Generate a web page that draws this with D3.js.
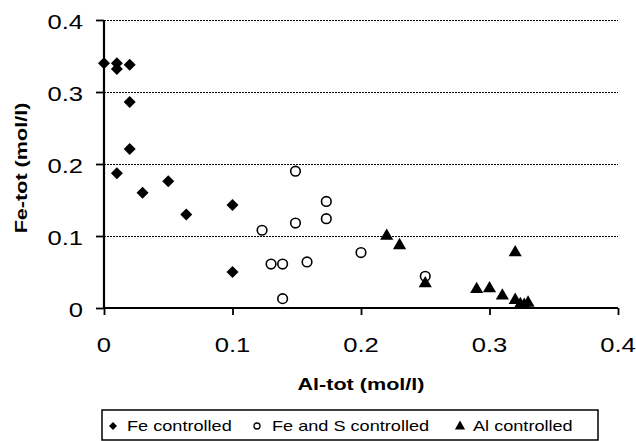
<!DOCTYPE html>
<html><head><meta charset="utf-8">
<script src="https://cdn.jsdelivr.net/npm/d3@7"></script>
<style>
html,body{margin:0;padding:0;background:#fff;}
svg{display:block;font-family:"Liberation Sans",Arial,sans-serif;}
</style></head>
<body>
<svg id="c" width="636" height="441"></svg>
<script>
// ---- data (Al-tot, Fe-tot in mol/l) ----
const feCtrlX = [0, 0.01, 0.01, 0.02, 0.02, 0.02, 0.01, 0.03, 0.05, 0.064, 0.1, 0.1];
const feCtrlY = [0.34, 0.34, 0.332, 0.338, 0.286, 0.221, 0.187, 0.16, 0.176, 0.13, 0.143, 0.05];
const feSX = [0.149, 0.173, 0.173, 0.149, 0.123, 0.13, 0.139, 0.158, 0.139, 0.2, 0.25];
const feSY = [0.19, 0.148, 0.124, 0.118, 0.108, 0.061, 0.061, 0.064, 0.013, 0.077, 0.044];
const alCtrlX = [0.22, 0.23, 0.25, 0.29, 0.30, 0.31, 0.32, 0.32, 0.324, 0.327, 0.33];
const alCtrlY = [0.1, 0.087, 0.034, 0.026, 0.027, 0.017, 0.077, 0.011, 0.005, 0.004, 0.007];
const xTicks = [0, 0.1, 0.2, 0.3, 0.4];
const yTicks = [0, 0.1, 0.2, 0.3, 0.4];
const xTickLabels = ["0", "0.1", "0.2", "0.3", "0.4"];
const yTickLabels = ["0", "0.1", "0.2", "0.3", "0.4"];
const seriesNames = ["Fe controlled", "Fe and S controlled", "Al controlled"];
const xTitle = "Al-tot (mol/l)";
const yTitle = "Fe-tot (mol/l)";

const svg = d3.select("#c");
const x = d3.scaleLinear().domain([0, 0.4]).range([104, 618]);
const y = d3.scaleLinear().domain([0, 0.4]).range([308, 20]);
const SX = 1.22;

// gridlines
svg.append("g").selectAll("line").data(yTicks.filter(v => v > 0)).join("line")
  .attr("x1", x(0)).attr("x2", x(0.4))
  .attr("y1", d => Math.round(y(d)) + 0.5).attr("y2", d => Math.round(y(d)) + 0.5)
  .attr("stroke", "#000").attr("stroke-width", 1)
  .attr("shape-rendering", "crispEdges")
  .attr("stroke-dasharray", "2,1");

// axes
const ax = svg.append("g").attr("transform", `translate(0,${y(0)})`)
  .call(d3.axisBottom(x).tickValues(xTicks).tickSize(7).tickFormat(""));
const ay = svg.append("g").attr("transform", `translate(${x(0)},0)`)
  .call(d3.axisLeft(y).tickValues(yTicks).tickSize(8).tickFormat(""));
[ax, ay].forEach(a => {
  a.select(".domain").attr("stroke", "#000").attr("stroke-width", 2.2);
  a.selectAll(".tick line").attr("stroke", "#000").attr("stroke-width", 1.8);
});
ax.select(".domain").attr("d", `M${x(0)},0H${x(0.4)}`);
ay.select(".domain").attr("d", `M0,${y(0)}V${y(0.4)}`);

// tick labels
svg.append("g").selectAll("text").data(xTicks).join("text")
  .attr("transform", (d) => `translate(${x(d)},${y(0) + 44}) scale(${SX},1)`)
  .attr("text-anchor", "middle").attr("font-size", 21).attr("fill", "#000")
  .text((d, i) => xTickLabels[i]);
svg.append("g").selectAll("text").data(yTicks).join("text")
  .attr("transform", (d) => `translate(${x(0) - 21},${y(d) + 9}) scale(${SX},1)`)
  .attr("text-anchor", "end").attr("font-size", 21).attr("fill", "#000")
  .text((d, i) => yTickLabels[i]);

// axis titles
svg.append("text")
  .attr("transform", `translate(${(x(0) + x(0.4)) / 2},390) scale(1.27,1)`)
  .attr("text-anchor", "middle").attr("font-size", 17).attr("font-weight", "bold")
  .text(xTitle);
svg.append("text")
  .attr("transform", `translate(27,${(y(0) + y(0.4)) / 2 + 4}) rotate(-90) scale(1.27,1)`)
  .attr("text-anchor", "middle").attr("font-size", 17).attr("font-weight", "bold")
  .text(yTitle);

// markers
const sq = d3.symbol().type(d3.symbolSquare);
const tri = d3.symbol().type(d3.symbolTriangle);
const g = svg.append("g");
g.selectAll("path.fe").data(feCtrlX.map((v, i) => [v, feCtrlY[i]])).join("path")
  .attr("class", "fe")
  .attr("transform", d => `translate(${x(d[0])},${y(d[1])}) rotate(45)`)
  .attr("d", sq.size(72)).attr("fill", "#000");
g.selectAll("circle").data(feSX.map((v, i) => [v, feSY[i]])).join("circle")
  .attr("cx", d => x(d[0])).attr("cy", d => y(d[1])).attr("r", 4.8)
  .attr("fill", "#fff").attr("stroke", "#000").attr("stroke-width", 1.6);
g.selectAll("path.al").data(alCtrlX.map((v, i) => [v, alCtrlY[i]])).join("path")
  .attr("class", "al")
  .attr("transform", d => `translate(${x(d[0])},${y(d[1])})`)
  .attr("d", tri.size(75)).attr("fill", "#000");

// legend
const leg = svg.append("g");
leg.append("rect").attr("x", 102).attr("y", 410).attr("width", 496).attr("height", 30)
  .attr("fill", "#fff").attr("stroke", "#000").attr("stroke-width", 1.5);
const legMarkX = [113, 257, 460];
const legTextX = [127, 272, 473];
leg.append("path").attr("transform", `translate(${legMarkX[0]},426) rotate(45)`)
  .attr("d", d3.symbol().type(d3.symbolSquare).size(32)()).attr("fill", "#000");
leg.append("circle").attr("cx", legMarkX[1]).attr("cy", 426).attr("r", 3)
  .attr("fill", "#fff").attr("stroke", "#000").attr("stroke-width", 1.3);
leg.append("path").attr("transform", `translate(${legMarkX[2]},426.5)`)
  .attr("d", d3.symbol().type(d3.symbolTriangle).size(45)()).attr("fill", "#000");
leg.selectAll("text").data(seriesNames).join("text")
  .attr("transform", (d, i) => `translate(${legTextX[i]},431) scale(1.25,1)`)
  .attr("font-size", 14.5).attr("fill", "#000").text(d => d);
</script>
</body></html>
